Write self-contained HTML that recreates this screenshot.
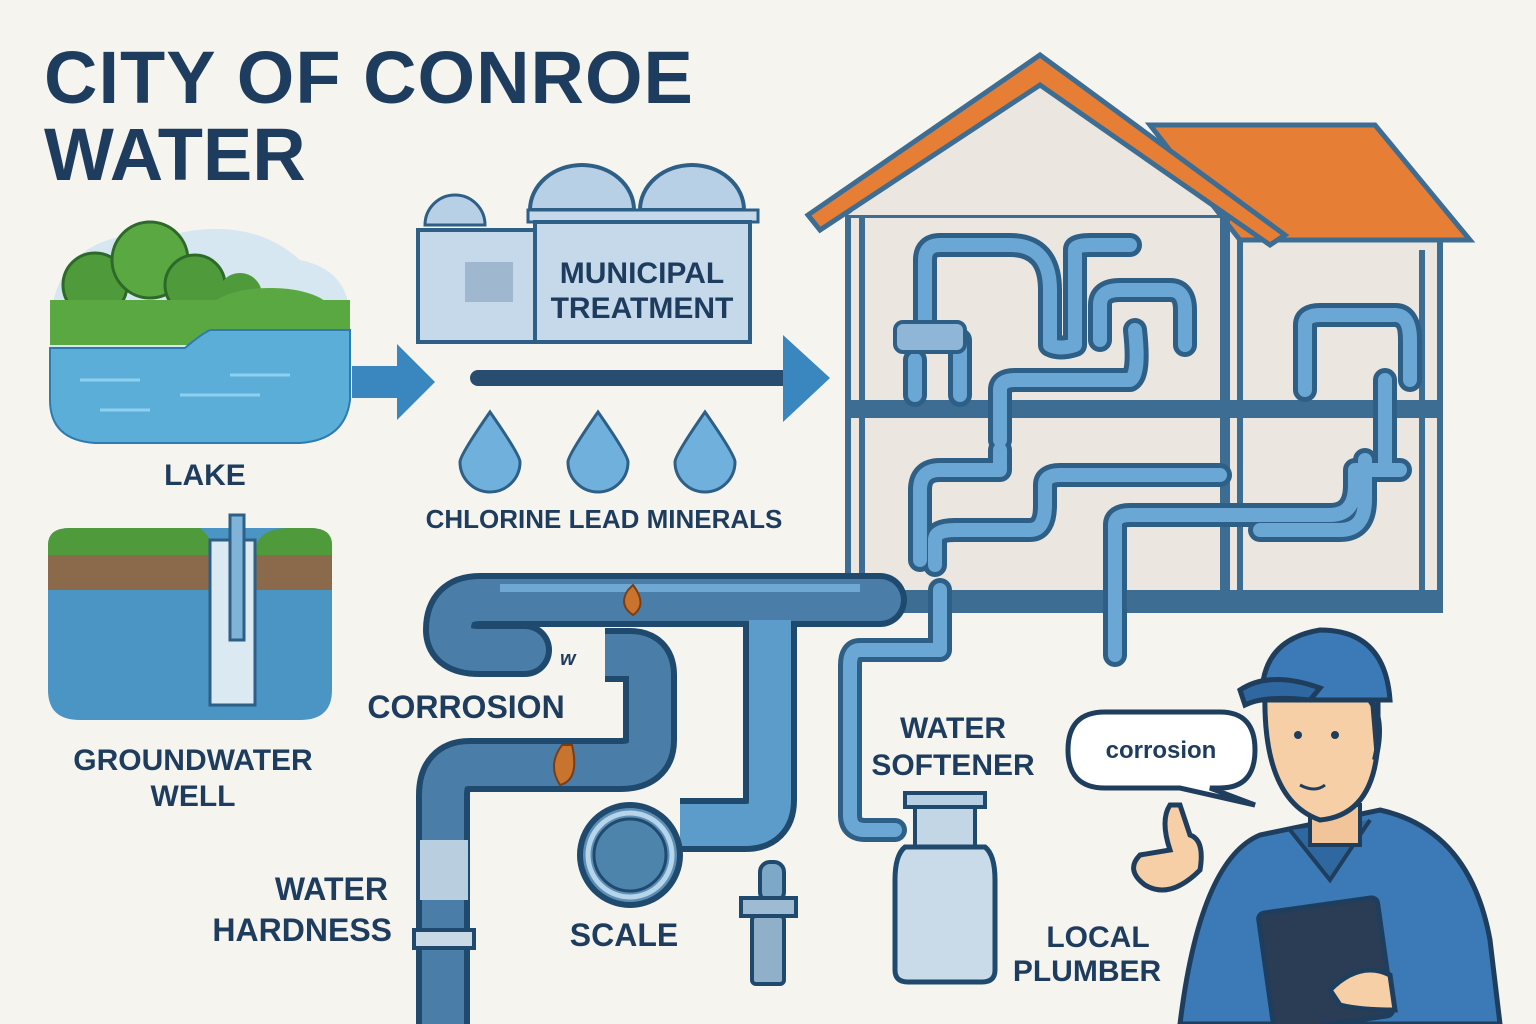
<!DOCTYPE html>
<html><head><meta charset="utf-8"><style>
html,body{margin:0;padding:0;background:#f6f4ef;}
svg{display:block;}
text{font-family:"Liberation Sans",sans-serif;font-weight:bold;fill:#1e3d5e;}
</style></head><body>
<svg width="1536" height="1024" viewBox="0 0 1536 1024" xmlns="http://www.w3.org/2000/svg">
<rect width="1536" height="1024" fill="#f6f4ef"/>
<!-- Title -->
<text x="44" y="103" font-size="74" style="letter-spacing:1px">CITY OF CONROE</text>
<text x="44" y="180" font-size="74">WATER</text>

<!-- Lake -->
<path d="M50 320 Q60 225 170 235 Q250 215 300 260 Q350 270 350 320 L350 400 Q345 440 300 443 L95 443 Q50 440 50 400 Z" fill="#d7e7f1"/>
<circle cx="95" cy="285" r="32" fill="#4f9a3a" stroke="#2d6a2a" stroke-width="3"/>
<circle cx="150" cy="260" r="38" fill="#5aa842" stroke="#2d6a2a" stroke-width="3"/>
<circle cx="195" cy="285" r="30" fill="#4f9a3a" stroke="#2d6a2a" stroke-width="3"/>
<circle cx="240" cy="295" r="22" fill="#4f9a3a"/>
<ellipse cx="270" cy="310" rx="60" ry="22" fill="#5aa842"/>
<rect x="50" y="300" width="300" height="45" fill="#5aa842"/>
<path d="M50 348 L185 348 Q200 335 210 330 L350 330 L350 400 Q345 440 300 443 L95 443 Q50 440 50 400 Z" fill="#5aaed8" stroke="#2e7bb0" stroke-width="2"/>
<path d="M80 380 h60 M180 395 h80 M100 410 h50 M230 375 h60" stroke="#8fd0f0" stroke-width="3"/>
<!-- Arrow lake -->
<path d="M352 366 h45 v-22 l38 38 -38 38 v-22 h-45 z" fill="#3a86bf"/>
<text x="205" y="485" font-size="30" text-anchor="middle">LAKE</text>

<!-- Well -->
<path d="M48 545 Q48 528 70 528 L310 528 Q332 528 332 545 L332 690 Q332 720 300 720 L80 720 Q48 720 48 690 Z" fill="#4a95c4"/>
<path d="M48 545 Q48 528 70 528 L200 528 Q215 540 210 555 L48 555 Z" fill="#4f9a3a"/>
<path d="M255 555 Q255 528 290 528 L310 528 Q332 528 332 545 L332 555 Z" fill="#4f9a3a"/>
<rect x="48" y="555" width="284" height="35" fill="#8a6a4a"/>
<rect x="210" y="540" width="45" height="165" fill="#dbe9f3" stroke="#2e5f86" stroke-width="3"/>
<rect x="230" y="515" width="14" height="125" fill="#7fb4d8" stroke="#2e5f86" stroke-width="3"/>
<text x="193" y="770" font-size="30" text-anchor="middle">GROUNDWATER</text>
<text x="193" y="806" font-size="30" text-anchor="middle">WELL</text>

<!-- Treatment building -->
<path d="M425 225 a30 30 0 0 1 60 0 z" fill="#b8d0e6" stroke="#2e5f86" stroke-width="3"/>
<rect x="418" y="230" width="120" height="112" fill="#c6d9ea" stroke="#2e5f86" stroke-width="4"/>
<rect x="465" y="262" width="48" height="40" fill="#9fb8cf"/>
<path d="M530 210 a52 45 0 0 1 104 0 z M640 210 a52 45 0 0 1 104 0 z" fill="#b8d0e6" stroke="#2e5f86" stroke-width="4"/>
<rect x="528" y="210" width="230" height="12" fill="#c6d9ea" stroke="#2e5f86" stroke-width="3"/>
<rect x="535" y="222" width="215" height="120" fill="#c6d9ea" stroke="#2e5f86" stroke-width="4"/>
<text x="642" y="283" font-size="30" text-anchor="middle">MUNICIPAL</text>
<text x="642" y="318" font-size="30" text-anchor="middle">TREATMENT</text>
<line x1="478" y1="378" x2="790" y2="378" stroke="#284d70" stroke-width="16" stroke-linecap="round"/>
<path d="M783 335 L830 378 L783 422 Z" fill="#3a86bf"/>
<g fill="#6fb0dc" stroke="#2e5f86" stroke-width="3">
<path d="M490 412 Q520 455 520 462 a30 30 0 0 1 -60 0 Q460 455 490 412 Z"/>
<path d="M598 412 Q628 455 628 462 a30 30 0 0 1 -60 0 Q568 455 598 412 Z"/>
<path d="M705 412 Q735 455 735 462 a30 30 0 0 1 -60 0 Q675 455 705 412 Z"/>
</g>
<text x="604" y="528" font-size="26" text-anchor="middle">CHLORINE LEAD MINERALS</text>

<!-- House -->
<rect x="848" y="215" width="592" height="395" fill="#ebe6df" stroke="#3e6d93" stroke-width="6"/>
<path d="M848 215 L1040 75 L1225 215" fill="#ebe6df"/>
<path d="M1150 125 L1375 125 L1470 240 L1240 240 Z" fill="#e67e36" stroke="#3e6d93" stroke-width="5"/>
<path d="M808 215 L1040 55 L1285 235 L1270 245 L1040 85 L820 230 Z" fill="#e67e36" stroke="#3e6d93" stroke-width="5"/>
<line x1="1225" y1="215" x2="1225" y2="600" stroke="#3e6d93" stroke-width="10"/>
<line x1="1240" y1="240" x2="1240" y2="600" stroke="#3e6d93" stroke-width="6"/>
<rect x="848" y="400" width="592" height="18" fill="#3e6d93"/>
<rect x="848" y="590" width="592" height="22" fill="#3e6d93"/>
<line x1="862" y1="215" x2="862" y2="610" stroke="#3e6d93" stroke-width="6"/>
<line x1="1422" y1="250" x2="1422" y2="600" stroke="#3e6d93" stroke-width="6"/>
<g fill="none" stroke-linecap="round" stroke-linejoin="round">
<g stroke="#2e5f86" stroke-width="24">
<path d="M925 340 V260 Q925 245 940 245 H1010 Q1050 245 1050 290 V345 Q1060 350 1075 345 V250 Q1075 245 1090 245 H1130"/>
<path d="M915 360 V395 M960 340 V395"/>
<path d="M1100 340 V305 Q1100 290 1120 290 H1170 Q1185 290 1185 310 V345"/>
<path d="M1000 440 V390 Q1000 380 1015 380 H1130 Q1140 375 1135 330"/>
<path d="M1305 390 V325 Q1305 315 1320 315 H1395 Q1410 315 1410 340 V380"/>
<path d="M920 560 V490 Q920 470 940 470 H1000 V450"/>
<path d="M935 565 V540 Q935 530 955 530 H1030 Q1045 530 1045 505 V485 Q1045 475 1060 475 H1220"/>
<path d="M1115 655 V525 Q1115 515 1130 515 H1330 Q1355 515 1355 485 V470 H1400 M1385 380 V465"/>
<path d="M1260 530 H1340 Q1365 530 1365 500 V460"/>
<path d="M940 590 V650 H860 Q850 650 850 665 V815 Q850 830 865 830 H895"/>
</g>
<g stroke="#6aa7d4" stroke-width="14">
<path d="M925 340 V260 Q925 245 940 245 H1010 Q1050 245 1050 290 V345 Q1060 350 1075 345 V250 Q1075 245 1090 245 H1130"/>
<path d="M915 360 V395 M960 340 V395"/>
<path d="M1100 340 V305 Q1100 290 1120 290 H1170 Q1185 290 1185 310 V345"/>
<path d="M1000 440 V390 Q1000 380 1015 380 H1130 Q1140 375 1135 330"/>
<path d="M1305 390 V325 Q1305 315 1320 315 H1395 Q1410 315 1410 340 V380"/>
<path d="M920 560 V490 Q920 470 940 470 H1000 V450"/>
<path d="M935 565 V540 Q935 530 955 530 H1030 Q1045 530 1045 505 V485 Q1045 475 1060 475 H1220"/>
<path d="M1115 655 V525 Q1115 515 1130 515 H1330 Q1355 515 1355 485 V470 H1400 M1385 380 V465"/>
<path d="M1260 530 H1340 Q1365 530 1365 500 V460"/>
<path d="M940 590 V650 H860 Q850 650 850 665 V815 Q850 830 865 830 H895"/>
</g>
</g>
<rect x="895" y="322" width="70" height="30" rx="8" fill="#8fb6d6" stroke="#2e5f86" stroke-width="4"/>

<!-- Main pipes -->
<g fill="none" stroke-linejoin="round">
<g stroke="#1f4a6e" stroke-width="54">
<path d="M880 600 H480 Q450 600 450 630 Q450 650 480 650 H525" stroke-linecap="round"/>
<path d="M605 655 H630 Q650 655 650 675 V740 Q650 765 620 765 H470 Q443 765 443 795 V1030"/>
<path d="M770 620 V800 Q770 825 745 825 H680"/>
</g>
<g stroke="#4a7ea8" stroke-width="42">
<path d="M880 600 H480 Q450 600 450 630 Q450 650 480 650 H525" stroke-linecap="round"/>
<path d="M605 655 H630 Q650 655 650 675 V740 Q650 765 620 765 H470 Q443 765 443 795 V1030"/>
</g>
<path d="M770 620 V800 Q770 825 745 825 H680" stroke="#5c9ccb" stroke-width="42"/>
<path d="M500 588 H860" stroke="#6fa9d3" stroke-width="8"/>
</g>
<rect x="420" y="840" width="48" height="60" fill="#b9cfe0"/>
<rect x="414" y="930" width="60" height="18" fill="#c9d9e6" stroke="#1f4a6e" stroke-width="4"/>
<path d="M628 590 q-10 15 5 25 q15 -10 0 -30 z" fill="#c8742e" stroke="#7a3e16" stroke-width="2"/>
<path d="M562 745 q-15 20 -2 40 q20 -5 12 -40 z" fill="#c8742e" stroke="#7a3e16" stroke-width="2"/>
<text x="560" y="665" font-size="20" font-style="italic">w</text>
<circle cx="630" cy="855" r="50" fill="#5b8fb5" stroke="#1f4a6e" stroke-width="6"/>
<circle cx="630" cy="855" r="42" fill="none" stroke="#b6d5ea" stroke-width="5"/>
<circle cx="630" cy="855" r="36" fill="#4d84ab" stroke="#1f4a6e" stroke-width="3"/>
<rect x="760" y="862" width="24" height="40" rx="10" fill="#7ea8c8" stroke="#1f4a6e" stroke-width="4"/>
<rect x="741" y="898" width="55" height="18" fill="#9dbcd4" stroke="#1f4a6e" stroke-width="4"/>
<rect x="752" y="916" width="32" height="68" rx="4" fill="#8fb0c8" stroke="#1f4a6e" stroke-width="4"/>

<text x="466" y="718" font-size="32" text-anchor="middle">CORROSION</text>
<text x="388" y="900" font-size="32" text-anchor="end">WATER</text>
<text x="392" y="941" font-size="32" text-anchor="end">HARDNESS</text>
<text x="624" y="946" font-size="32" text-anchor="middle">SCALE</text>

<rect x="905" y="793" width="80" height="14" fill="#b7cfe2" stroke="#1f4a6e" stroke-width="4"/>
<rect x="915" y="807" width="60" height="40" fill="#c3d6e6" stroke="#1f4a6e" stroke-width="4"/>
<path d="M905 847 H985 Q995 855 995 880 V970 Q995 982 982 982 H908 Q895 982 895 970 V880 Q895 855 905 847 Z" fill="#c9dae8" stroke="#1f4a6e" stroke-width="5"/>
<text x="953" y="738" font-size="30" text-anchor="middle">WATER</text>
<text x="953" y="775" font-size="30" text-anchor="middle">SOFTENER</text>
<text x="1098" y="947" font-size="30" text-anchor="middle">LOCAL</text>
<text x="1087" y="981" font-size="30" text-anchor="middle">PLUMBER</text>

<path d="M1105 712 H1220 Q1255 712 1255 750 Q1255 788 1220 788 H1210 L1255 805 L1180 788 H1105 Q1068 788 1068 750 Q1068 712 1105 712 Z" fill="#fff" stroke="#1f3e5e" stroke-width="5"/>
<text x="1161" y="758" font-size="24" text-anchor="middle">corrosion</text>

<path d="M1180 1024 Q1200 860 1260 835 L1380 810 Q1470 830 1490 940 L1500 1024 Z" fill="#3b7ab6" stroke="#1f3e5e" stroke-width="5"/>
<path d="M1290 830 L1330 880 L1370 820" fill="#2f67a0" stroke="#1f3e5e" stroke-width="4"/>
<rect x="1310" y="805" width="50" height="40" fill="#f1c49a" stroke="#1f3e5e" stroke-width="4"/>
<path d="M1265 690 Q1262 800 1320 820 Q1375 815 1378 740 L1378 690 Z" fill="#f6cfa6" stroke="#1f3e5e" stroke-width="5"/>
<path d="M1262 700 Q1260 640 1320 630 Q1385 630 1390 700 Z" fill="#3b7ab6" stroke="#1f3e5e" stroke-width="5"/>
<path d="M1240 690 Q1270 670 1320 688 L1310 700 Q1265 695 1245 705 Z" fill="#2f67a0" stroke="#1f3e5e" stroke-width="5"/>
<path d="M1370 700 Q1385 720 1375 760" fill="#2a3d55" stroke="#1f3e5e" stroke-width="6"/>
<circle cx="1298" cy="735" r="4" fill="#1f3e5e"/><circle cx="1335" cy="735" r="4" fill="#1f3e5e"/>
<path d="M1300 785 q15 8 25 0" stroke="#1f3e5e" stroke-width="3" fill="none"/>
<rect x="1265" y="905" width="120" height="119" rx="6" fill="#2a3d55" stroke="#1f3e5e" stroke-width="5" transform="rotate(-8 1325 960)"/>
<path d="M1170 805 Q1160 820 1170 850 L1140 855 Q1125 870 1145 885 Q1170 900 1200 870 Q1205 840 1190 835 L1180 805 Z" fill="#f6cfa6" stroke="#1f3e5e" stroke-width="5"/>
<path d="M1330 990 Q1360 960 1390 975 L1395 1010 Q1360 1010 1340 1005 Z" fill="#f6cfa6" stroke="#1f3e5e" stroke-width="5"/>
</svg>
</body></html>
